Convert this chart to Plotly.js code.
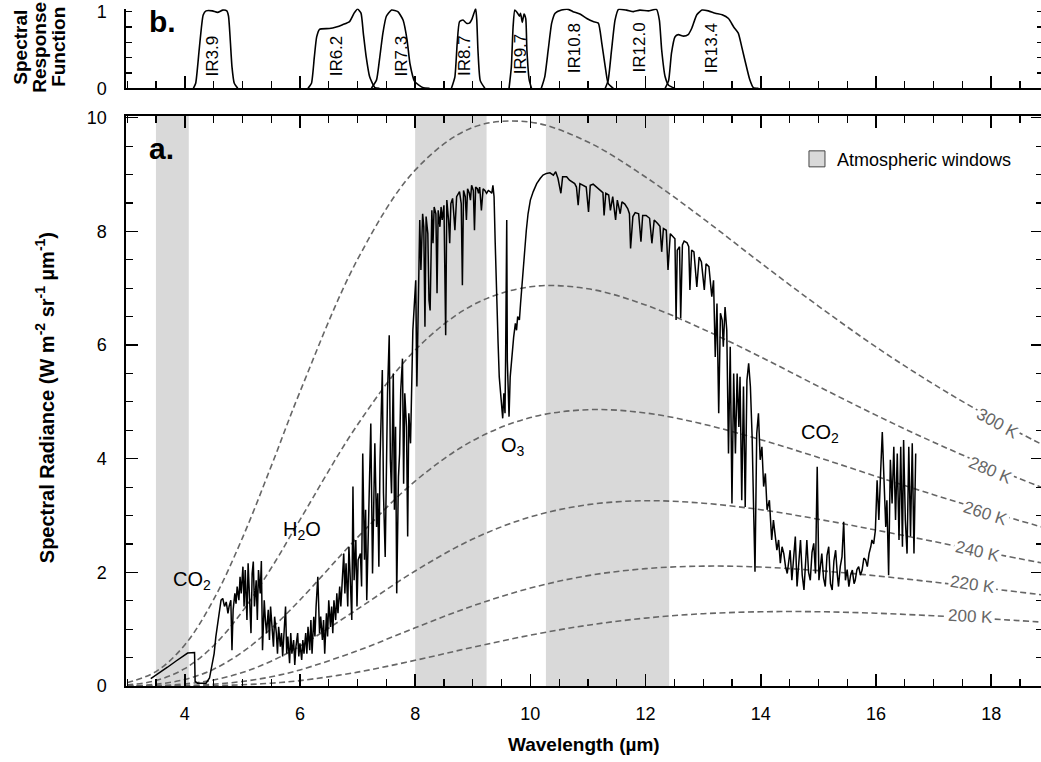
<!DOCTYPE html>
<html><head><meta charset="utf-8">
<script src="https://cdn.plot.ly/plotly-3.0.1.min.js"></script>
<style>html,body{margin:0;padding:0;overflow:hidden;background:#fff}#chart{width:1043px;height:762px}</style>
</head><body><div id="chart"></div>
<script>
// ---------- DATA ----------
const windowStart = [3.5, 8.0, 10.27];
const windowEnd   = [4.07, 9.24, 12.41];

const planckWl = [3, 3.5, 4, 4.5, 5, 5.5, 6, 7, 8, 9, 10, 11, 12, 13, 14, 15, 16, 17, 18, 19];
const planckTemps = ['300 K','280 K','260 K','240 K','220 K','200 K'];
const b300 = [0.056,0.254,0.722,1.518,2.602,3.865,5.176,7.507,9.077,9.829,9.922,9.572,8.956,8.225,7.444,6.686,5.967,5.312,4.720,4.190];
const b280 = [0.018,0.095,0.306,0.709,1.312,2.073,2.924,4.598,5.911,6.703,7.025,6.990,6.705,6.278,5.790,5.272,4.766,4.290,3.849,3.447];
const b260 = [0.005,0.031,0.114,0.295,0.595,1.011,1.513,2.615,3.605,4.317,4.723,4.862,4.804,4.609,4.334,4.022,3.690,3.366,3.055,2.764];
const b240 = [0.001,0.008,0.036,0.106,0.237,0.437,0.701,1.353,2.024,2.585,2.975,3.191,3.260,3.217,3.102,2.935,2.744,2.543,2.337,2.143];
const b220 = [0.000,0.002,0.009,0.032,0.080,0.162,0.283,0.621,1.024,1.409,1.723,1.942,2.065,2.109,2.093,2.030,1.939,1.829,1.712,1.590];
const b200 = [0.000,0.000,0.002,0.007,0.022,0.049,0.095,0.244,0.452,0.682,0.895,1.070,1.195,1.272,1.306,1.307,1.281,1.236,1.180,1.117];
// label positions of the temperature curves
const tempLabelX = [18.11, 17.99, 17.90, 17.76, 17.67, 17.64];
const tempLabelY = [4.62, 3.80, 3.04, 2.36, 1.78, 1.22];
const tempLabelAngle = [29, 23, 18, 13, 8, 3];

// measured spectrum, read in segments
const specX1 = [3.41,3.55,3.70,3.85,4.00,4.05,4.17,4.18,4.22,4.30,4.37,4.43,4.47,4.51];
const specY1 = [0.13,0.22,0.33,0.44,0.54,0.58,0.59,0.08,0.05,0.05,0.05,0.14,0.34,0.57];
const specX2 = [4.54,4.57,4.60,4.63,4.66,4.69,4.72,4.75,4.77,4.80,4.82,4.84,4.87,4.89,4.91,4.94,4.96,4.98,5.01,5.03,5.05,5.08,5.10,5.12,5.15,5.17,5.19,5.21,5.24,5.26,5.28,5.31,5.33,5.35,5.38,5.40,5.42,5.45,5.47,5.49,5.52,5.54,5.56,5.59,5.61,5.63,5.66,5.68,5.70,5.73,5.75,5.77,5.79,5.82,5.84,5.86,5.89,5.91,5.93,5.96,5.98,6.00,6.03,6.05,6.07,6.10,6.12,6.14,6.17,6.19,6.21,6.24,6.26,6.28,6.31,6.34,6.36,6.39,6.41,6.43,6.46,6.48,6.50,6.53,6.55,6.57,6.59,6.62,6.64,6.66,6.69,6.71,6.73,6.76,6.78,6.80,6.83,6.85,6.87,6.90,6.92,6.94,6.97,6.99,7.01];
const specY2 = [0.87,1.10,1.31,1.51,1.54,1.40,1.48,1.28,1.40,1.51,0.63,1.34,1.63,1.45,1.75,1.51,1.92,1.63,2.10,1.40,2.04,1.16,2.16,1.63,0.93,1.98,2.19,1.40,1.86,1.16,2.04,1.63,2.20,0.63,1.51,1.16,0.93,1.34,0.81,1.40,1.04,0.69,1.22,0.93,0.57,1.04,0.69,0.93,0.52,1.16,1.40,0.57,0.87,0.40,0.93,0.57,0.81,0.37,0.69,0.93,0.52,0.75,0.46,0.81,0.57,0.93,0.57,1.04,0.63,1.16,0.57,1.22,0.87,1.40,1.92,0.93,1.22,0.81,1.16,0.57,1.28,0.87,1.51,1.04,1.40,0.93,1.51,1.16,1.63,1.28,1.75,1.40,1.86,2.33,1.63,2.16,1.40,2.45,1.98,1.16,3.51,1.86,2.57,1.40,2.22];
const specX3 = [7.05,7.07,7.09,7.12,7.14,7.16,7.19,7.21,7.23,7.26,7.28,7.30,7.33,7.35,7.37,7.39,7.43,7.45,7.48,7.50,7.52,7.55,7.57,7.59,7.62,7.64,7.66,7.68,7.71,7.73,7.75,7.78,7.80,7.82,7.85,7.87,7.89,7.92,7.94,7.96,7.99,8.01,8.03,8.06,8.08,8.10,8.13,8.15,8.17,8.19,8.22,8.24,8.26,8.29,8.31,8.33,8.36,8.38,8.40,8.43,8.45,8.47,8.50,8.53,8.55,8.58,8.60,8.62,8.65,8.67,8.69,8.72,8.75,8.77,8.80,8.82,8.84,8.87,8.89,8.91,8.94,8.96,8.98,9.01,9.03,9.05,9.08,9.10,9.12,9.15,9.18,9.21,9.24,9.27,9.30,9.33,9.35];
const specY3 = [2.33,1.75,4.09,2.22,3.10,1.51,2.92,3.62,4.62,1.98,3.39,4.27,2.80,3.39,2.10,3.97,5.56,3.39,2.27,4.27,5.15,6.17,3.97,3.39,5.50,3.10,4.56,1.63,3.68,4.09,5.21,5.76,3.56,5.15,4.56,2.63,4.80,4.27,5.73,6.26,6.79,7.14,5.27,7.61,8.20,7.32,8.31,8.08,6.32,8.26,7.96,6.79,6.61,8.37,7.79,8.43,8.31,6.91,8.37,8.08,8.43,8.20,8.46,6.17,8.55,8.20,7.79,8.49,8.58,8.31,8.02,8.61,8.67,8.70,8.49,7.05,8.72,8.61,8.20,8.75,8.67,8.55,8.81,8.72,8.02,8.78,8.75,8.67,8.78,8.37,8.75,8.72,8.67,8.72,8.70,8.67,8.81];
const specX4 = [9.37,9.39,9.41,9.44,9.46,9.48,9.50,9.52,9.54,9.56,9.57,9.59,9.60,9.62,9.63,9.65,9.67,9.69,9.71,9.74,9.76,9.78,9.81,9.83,9.85,9.88,9.90,9.93,9.96,10.00,10.05,10.11,10.17,10.22,10.28,10.34,10.40,10.44,10.48,10.53,10.56];
const specY4 = [8.61,7.79,6.91,6.03,5.44,5.15,5.03,4.71,5.15,4.80,5.73,8.20,5.73,4.91,4.74,5.44,5.73,5.97,6.14,6.38,6.26,6.50,6.44,6.73,7.02,7.32,7.67,8.02,8.31,8.55,8.70,8.84,8.93,8.99,9.02,9.03,8.99,9.05,8.93,8.67,8.96];
const specX5 = [10.63,10.68,10.72,10.77,10.80,10.83,10.86,10.92,10.97,11.01,11.04,11.09,11.15,11.21,11.26,11.28,11.31,11.36,11.39,11.43,11.48,11.51,11.56,11.59,11.64,11.69,11.72,11.74,11.78,11.82,11.88,11.92,11.95,12.01,12.07,12.11,12.15,12.21,12.25,12.28,12.31,12.36,12.39,12.43,12.47,12.51,12.53,12.55,12.59,12.61,12.64,12.67,12.72,12.75,12.77,12.80,12.84,12.89,12.93,12.97,13.02,13.05,13.10,13.15,13.18];
const specY5 = [8.96,8.90,8.87,8.84,8.78,8.46,8.84,8.81,8.78,8.34,8.81,8.83,8.78,8.72,8.68,8.28,8.67,8.64,8.37,8.61,8.20,8.55,8.31,8.52,8.48,8.40,8.31,7.70,8.26,8.33,8.31,7.82,8.28,8.28,8.23,7.79,8.20,8.14,8.09,7.64,8.05,8.02,7.32,7.96,7.92,7.87,6.44,7.67,7.73,6.47,7.76,7.83,7.80,7.73,6.97,7.67,7.64,7.02,7.55,7.46,6.97,7.43,7.38,6.85,7.14];
const specX6 = [13.21,13.24,13.27,13.30,13.33,13.35,13.38,13.41,13.44,13.47,13.50,13.53,13.56,13.59,13.62,13.64,13.67,13.70,13.73,13.76,13.79,13.82,13.85,13.88,13.90,13.93,13.96,13.99,14.02,14.05,14.08,14.11,14.15,14.19,14.22,14.28,14.31,14.34,14.37,14.40,14.43,14.46,14.49,14.51,14.54,14.57,14.60,14.63,14.66,14.69,14.72,14.75,14.78,14.80,14.83,14.86,14.89,14.92,14.95,14.98,15.01,15.04,15.06,15.09,15.12,15.15,15.18,15.21,15.24,15.27,15.30,15.33,15.35,15.38,15.41,15.44,15.47,15.50,15.53,15.56,15.59,15.62,15.64,15.67,15.70,15.73,15.76,15.79,15.82,15.85,15.88,15.91,15.93,15.96,15.99,16.02,16.05,16.08,16.11,16.14,16.17,16.19,16.22,16.25,16.28,16.31,16.34,16.37,16.40,16.43,16.46,16.48,16.51,16.54,16.57,16.60,16.63,16.66,16.69];
const specY6 = [5.79,6.73,4.80,6.56,6.44,5.97,6.67,6.26,4.09,5.97,3.21,5.50,4.09,5.50,4.56,5.44,3.27,5.27,3.15,5.38,5.68,5.27,4.39,2.92,2.01,4.44,4.80,3.98,4.21,3.51,3.74,3.10,3.27,2.57,2.92,2.39,2.57,2.16,2.45,2.33,2.10,1.98,2.30,2.39,1.86,2.20,2.63,1.75,2.10,2.57,1.95,1.69,2.20,2.57,2.00,1.86,2.35,2.51,1.98,3.86,1.86,2.15,2.33,1.90,1.75,2.30,2.45,1.80,1.69,2.20,2.39,1.95,1.75,2.10,2.27,2.89,1.86,2.05,1.75,1.95,2.04,1.80,1.86,2.05,2.10,1.95,2.04,2.25,2.22,2.10,2.33,2.45,2.57,2.50,2.74,3.62,2.92,3.74,4.47,3.62,2.80,3.27,1.95,3.98,3.21,4.21,2.92,4.09,2.57,4.21,2.45,4.33,2.92,2.33,4.21,2.63,4.27,2.33,4.09];

// spectral response functions (panel b)
const srfNames = ['IR3.9','IR6.2','IR7.3','IR8.7','IR9.7','IR10.8','IR12.0','IR13.4'];
const srfX39 = [4.15,4.19,4.25,4.29,4.32,4.37,4.48,4.57,4.66,4.73,4.76,4.79,4.82,4.86,4.92];
const srfY39 = [0,0.065,0.5,0.80,0.957,1.01,1.01,0.99,1.02,1.01,0.94,0.63,0.28,0.065,0];
const srfX62 = [6.14,6.20,6.25,6.29,6.34,6.51,6.63,6.74,6.86,6.94,7.00,7.06,7.10,7.15,7.21,7.30,7.38];
const srfY62 = [0,0.065,0.41,0.67,0.77,0.78,0.80,0.83,0.87,0.98,1.035,0.98,0.72,0.41,0.15,0.01,0];
const srfX73 = [7.24,7.33,7.38,7.44,7.50,7.59,7.70,7.79,7.86,7.91,7.99,8.13,8.25];
const srfY73 = [0,0.11,0.37,0.72,0.94,1.02,1.0,0.89,0.63,0.32,0.09,0.01,0];
const srfX87 = [8.63,8.69,8.73,8.77,8.83,8.89,8.94,8.99,9.05,9.07,9.09,9.13,9.21];
const srfY87 = [0,0.15,0.59,0.87,0.89,0.85,0.85,0.91,1.04,0.89,0.5,0.1,0];
const srfX97 = [9.63,9.67,9.70,9.73,9.77,9.81,9.83,9.86,9.89,9.92,9.94,9.98,10.02];
const srfY97 = [0,0.28,0.80,1.02,0.99,0.94,0.98,0.86,0.97,0.91,0.5,0.11,0];
const srfX108 = [10.19,10.25,10.31,10.37,10.43,10.54,10.66,10.74,10.86,10.98,11.09,11.18,11.24,11.30,11.35,11.44];
const srfY108 = [0,0.15,0.5,0.85,0.98,1.02,1.03,1.0,0.97,0.91,0.87,0.85,0.59,0.28,0.065,0];
const srfX120 = [11.30,11.35,11.41,11.47,11.53,11.67,11.79,11.90,12.05,12.19,12.24,12.28,12.34,12.40,12.51];
const srfY120 = [0,0.1,0.5,0.89,1.03,1.02,1.0,1.02,1.01,1.03,0.89,0.5,0.15,0.04,0];
const srfX134 = [12.34,12.40,12.45,12.51,12.57,12.66,12.74,12.80,12.89,12.98,13.09,13.21,13.33,13.44,13.53,13.61,13.67,13.73,13.81,13.87,13.96];
const srfY134 = [0,0.1,0.46,0.67,0.7,0.68,0.7,0.78,0.96,1.02,1.01,0.98,0.96,0.91,0.8,0.72,0.54,0.35,0.11,0.01,0];
const srfLabelX = [4.48, 6.63, 7.76, 8.86, 9.83, 10.77, 11.90, 13.15];
const srfLabelY = [0.42, 0.42, 0.42, 0.43, 0.45, 0.52, 0.53, 0.52];

// gas labels
const gasLabels = ['CO<sub>2</sub>','H<sub>2</sub>O','O<sub>3</sub>','CO<sub>2</sub>'];
const gasX = [4.13, 6.03, 9.69, 15.02];
const gasY = [1.85, 2.73, 4.22, 4.45];

// ---------- BUILD ----------
const FONT = 'Liberation Sans, Arial, sans-serif';
const traces = [];
const planckSets = [b300,b280,b260,b240,b220,b200];
planckSets.forEach((ys,i)=>{
  traces.push({x: planckWl, y: ys, xaxis:'x', yaxis:'y', type:'scatter', mode:'lines',
    line:{color:'#666666', width:1.6, dash:'6px,3.5px', shape:'spline'}, showlegend:false, hoverinfo:'skip'});
});
const specX = [].concat(specX1, specX2, specX3, specX4, specX5, specX6);
const specY = [].concat(specY1, specY2, specY3, specY4, specY5, specY6);
traces.push({x: specX, y: specY, xaxis:'x', yaxis:'y', type:'scatter', mode:'lines',
  line:{color:'#000', width:1.5}, showlegend:false});

const srfSets = [[srfX39,srfY39],[srfX62,srfY62],[srfX73,srfY73],[srfX87,srfY87],[srfX97,srfY97],[srfX108,srfY108],[srfX120,srfY120],[srfX134,srfY134]];
srfSets.forEach(s=>{
  traces.push({x:s[0], y:s[1], xaxis:'x2', yaxis:'y2', type:'scatter', mode:'lines',
    line:{color:'#000', width:1.6, shape:'spline', smoothing:0.5}, showlegend:false});
});
// legend entry for shaded windows
traces.push({x:[null], y:[null], xaxis:'x', yaxis:'y', type:'scatter', mode:'markers', name:'Atmospheric windows',
  marker:{symbol:'square', size:16, color:'#d9d9d9', line:{color:'#444', width:1}}, showlegend:true});

const shapes = windowStart.map((s,i)=>({type:'rect', xref:'x', yref:'y domain', x0:s, x1:windowEnd[i], y0:0, y1:1,
  fillcolor:'#d9d9d9', line:{width:0}, layer:'below'}));

const annotations = [];
planckTemps.forEach((t,i)=>{
  annotations.push({xref:'x', yref:'y', x:tempLabelX[i], y:tempLabelY[i], text:t, showarrow:false,
    textangle:tempLabelAngle[i], font:{family:FONT, size:17, color:'#666666'}, bgcolor:'#fff', borderpad:1});
});
srfNames.forEach((n,i)=>{
  annotations.push({xref:'x2', yref:'y2', x:srfLabelX[i], y:srfLabelY[i], text:n, showarrow:false,
    textangle:-90, font:{family:FONT, size:17, color:'#000'}});
});
gasLabels.forEach((g,i)=>{
  annotations.push({xref:'x', yref:'y', x:gasX[i], y:gasY[i], text:g, showarrow:false,
    font:{family:FONT, size:20, color:'#000'}});
});
annotations.push({xref:'paper', yref:'paper', x:0.0229, y:0.784, xanchor:'left', yanchor:'middle', text:'<b>a.</b>', showarrow:false, font:{family:FONT, size:30, color:'#000'}});
annotations.push({xref:'paper', yref:'paper', x:0.0229, y:0.968, xanchor:'left', yanchor:'middle', text:'<b>b.</b>', showarrow:false, font:{family:FONT, size:30, color:'#000'}});
annotations.push({xref:'paper', yref:'paper', x:0.499, y:-0.086, xanchor:'center', yanchor:'middle', text:'<b>Wavelength (µm)</b>', showarrow:false, font:{family:FONT, size:19, color:'#000'}});
annotations.push({xref:'paper', yref:'paper', x:-0.088, y:0.42, xanchor:'center', yanchor:'middle', textangle:-90,
  text:'<b>Spectral Radiance (W m<sup>-2</sup> sr<sup>-1</sup> µm<sup>-1</sup>)</b>', showarrow:false, font:{family:FONT, size:20, color:'#000'}});
['Spectral','Response','Function'].forEach((w,i)=>{
  annotations.push({xref:'paper', yref:'paper', x:[-0.1148,-0.0940,-0.0732][i], y:0.9315, xanchor:'center', yanchor:'middle',
    textangle:-90, text:'<b>'+w+'</b>', showarrow:false, font:{family:FONT, size:19, color:'#000'}});
});

const axCommon = {showline:true, linecolor:'#000', linewidth:1.6, ticks:'inside', tickcolor:'#000', tickwidth:1.5,
  showgrid:false, zeroline:false, tickfont:{family:FONT, size:18, color:'#000'}};

const layout = {
  width:1043, height:762, margin:{l:126, r:0, t:0, b:76}, paper_bgcolor:'#fff', plot_bgcolor:'rgba(0,0,0,0)',
  showlegend:true,
  legend:{x:0.7317, y:0.768, xanchor:'left', yanchor:'middle', bgcolor:'rgba(0,0,0,0)', font:{family:FONT, size:18, color:'#000'}},
  xaxis: Object.assign({}, axCommon, {domain:[0,1], anchor:'y', range:[2.98,18.9], tick0:0, dtick:2, ticklen:12, mirror:'ticks',
    ticklabelstandoff:11, minor:{dtick:0.5, ticklen:7, ticks:'inside', tickcolor:'#000', tickwidth:1.2}}),
  yaxis: Object.assign({}, axCommon, {domain:[0,0.8309], anchor:'x', range:[0,10.03], tick0:0, dtick:2, ticklen:12, mirror:'ticks',
    ticklabelstandoff:14, minor:{dtick:0.5, ticklen:7, ticks:'inside', tickcolor:'#000', tickwidth:1.2}}),
  xaxis2: Object.assign({}, axCommon, {domain:[0,1], anchor:'y2', range:[2.98,18.9], tick0:0, dtick:2, ticklen:12, showticklabels:false,
    minor:{dtick:0.5, ticklen:7, ticks:'inside', tickcolor:'#000', tickwidth:1.2}}),
  yaxis2: Object.assign({}, axCommon, {domain:[0.8713,0.9875], anchor:'x2', range:[0,1.04], tick0:0, dtick:1,
    ticklen:6, mirror:'ticks', ticklabelstandoff:14, minor:{dtick:0.2, tick0:0, ticklen:6, ticks:'inside', tickcolor:'#000', tickwidth:1.2}}),
  shapes: shapes,
  annotations: annotations
};
Plotly.newPlot('chart', traces, layout, {displayModeBar:false, staticPlot:true});
</script>
</body></html>
